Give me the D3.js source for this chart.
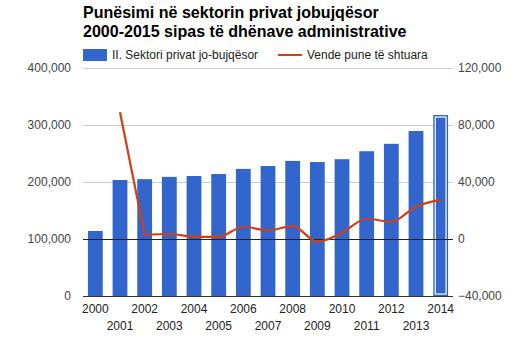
<!DOCTYPE html>
<html><head><meta charset="utf-8">
<script src="https://cdn.jsdelivr.net/npm/d3@7"></script>
<style>body{margin:0;background:#fff}svg{display:block}text{font-family:Arial,"Liberation Sans",sans-serif}</style>
</head><body><svg id="c" width="532" height="339"></svg>
<script>
const years = ["2000","2001","2002","2003","2004","2005","2006","2007","2008","2009","2010","2011","2012","2013","2014"];
const employment = [114000,203500,205000,209000,210500,214000,223000,228000,237000,235000,240000,254000,267000,289500,317500];
const lineYears = ["2001","2002","2003","2004","2005","2006","2007","2008","2009","2010","2011","2012","2013","2014"];
const addedJobs = [89000,2800,3500,1600,1500,8600,6000,9100,-1900,4400,14200,12100,22700,27400];
const leftTicks = [0,100000,200000,300000,400000];
const rightTicks = [-40000,0,40000,80000,120000];
const titleLines = ["Punësimi në sektorin privat jobujqësor","2000-2015 sipas të dhënave administrative"];
const legendNames = ["II. Sektori privat jo-bujqësor","Vende pune të shtuara"];

const svg = d3.select("#c");
const L=83,R=453,T=68,B=296;
const x = d3.scaleBand().domain(years).range([L,R]).paddingInner(0.4).paddingOuter(0.2);
const yL = d3.scaleLinear().domain([0,400000]).range([B,T]);
const yR = d3.scaleLinear().domain([-40000,120000]).range([B,T]);
const fmt = d3.format(",");

// title
const tt = svg.selectAll("text.title").data(titleLines).join("text")
  .attr("class","title")
  .attr("x",83).attr("y",(d,i)=>17.5+i*19)
  .attr("font-size",16).attr("font-weight","bold").attr("fill","#000").text(d=>d);
// fit first line to the reference width (~296px)
const w0 = tt.node().getComputedTextLength();
const fs = Math.max(15, Math.min(18, 16*296/w0));
tt.attr("font-size",fs);

// gridlines
svg.append("g").selectAll("line").data(leftTicks.filter(d=>d>0)).join("line")
  .attr("x1",L).attr("x2",R).attr("y1",d=>Math.round(yL(d))+0.5).attr("y2",d=>Math.round(yL(d))+0.5)
  .attr("stroke","#cccccc");

// left axis labels
svg.append("g").selectAll("text").data(leftTicks).join("text")
  .attr("x",71).attr("y",d=>yL(d)+4).attr("text-anchor","end")
  .attr("font-size",12).attr("fill","#444").text(d=>fmt(d));
// right axis labels
svg.append("g").selectAll("text").data(rightTicks).join("text")
  .attr("x",458).attr("y",d=>yR(d)+4).attr("text-anchor","start")
  .attr("font-size",12).attr("fill","#444").text(d=>fmt(d));

// bars
svg.append("g").selectAll("rect").data(employment).join("rect")
  .attr("x",(d,i)=>x(years[i])).attr("width",x.bandwidth())
  .attr("y",d=>yL(d)).attr("height",d=>B-yL(d)).attr("fill","#3366cc");
// selection highlight on last bar
const last = employment.length-1;
svg.append("rect")
  .attr("x",x(years[last])+2).attr("width",x.bandwidth()-4)
  .attr("y",yL(employment[last])+2).attr("height",B-yL(employment[last])-4)
  .attr("fill","none").attr("stroke","#fff").attr("stroke-width",1.2);

// zero line (right axis) and baseline
svg.append("line").attr("x1",L).attr("x2",R).attr("y1",Math.round(yR(0))+0.5).attr("y2",Math.round(yR(0))+0.5).attr("stroke","#222");
svg.append("line").attr("x1",L).attr("x2",R).attr("y1",B+0.5).attr("y2",B+0.5).attr("stroke","#333");

// line: steep first segment straight, rest smoothed
const pts = addedJobs.map((d,i)=>({x:x(lineYears[i])+x.bandwidth()/2, y:yR(d)}));
const lin = d3.line().x(d=>d.x).y(d=>d.y);
const smooth = d3.line().x(d=>d.x).y(d=>d.y).curve(d3.curveMonotoneX);
svg.append("path").attr("d",lin(pts.slice(0,2))).attr("fill","none").attr("stroke","#d23f16").attr("stroke-width",2.2).attr("stroke-linejoin","round");
svg.append("path").attr("d",smooth(pts.slice(1))).attr("fill","none").attr("stroke","#d23f16").attr("stroke-width",2.2).attr("stroke-linejoin","round");

// x labels
svg.append("g").selectAll("text").data(years).join("text")
  .attr("x",d=>x(d)+x.bandwidth()/2).attr("y",(d,i)=>i%2===0?313:330)
  .attr("text-anchor","middle").attr("font-size",12).attr("fill","#222").text(d=>d);

// legend
svg.append("rect").attr("x",83).attr("y",49).attr("width",24).attr("height",12).attr("fill","#3366cc");
svg.append("text").attr("x",112).attr("y",59).attr("font-size",12).attr("fill","#222").text(legendNames[0]);
svg.append("line").attr("x1",278).attr("x2",302).attr("y1",55).attr("y2",55).attr("stroke","#d23f16").attr("stroke-width",2);
svg.append("text").attr("x",307).attr("y",59).attr("font-size",12).attr("fill","#222").text(legendNames[1]);
</script></body></html>
